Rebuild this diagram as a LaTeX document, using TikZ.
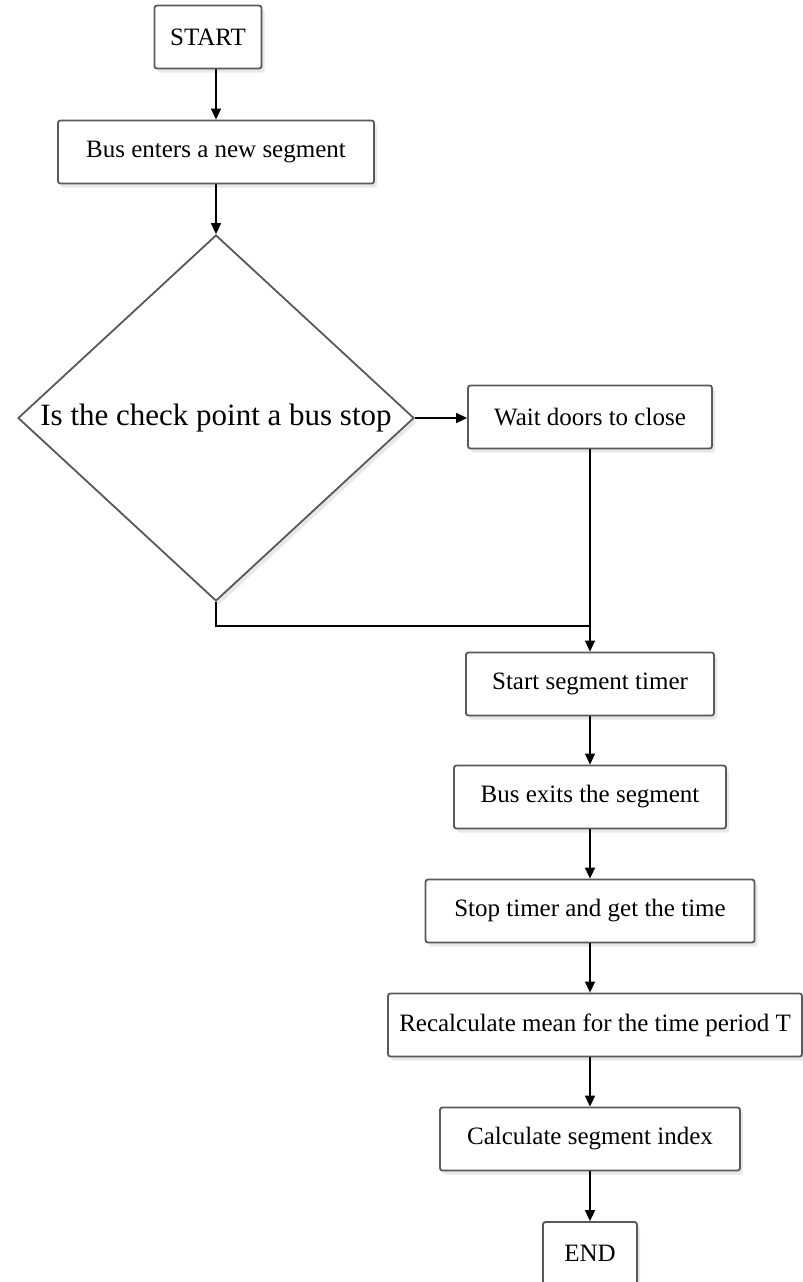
\documentclass[tikz,border=0pt]{standalone}
\usepackage{fontspec}
\setmainfont{Liberation Serif}
\usetikzlibrary{shapes.geometric,arrows.meta,shadows}

\tikzset{
  box/.style={draw=black!65, line width=0.9pt, rounded corners=1.2pt, fill=white,
    drop shadow={opacity=0.18, shadow xshift=1.5pt, shadow yshift=-2pt},
    minimum height=31.5pt, inner sep=2pt, font=\fontsize{12.5}{15}\selectfont},
  decision/.style={draw=black!65, line width=0.9pt, diamond, fill=white, inner sep=0pt,
    drop shadow={opacity=0.18, shadow xshift=1.5pt, shadow yshift=-2pt}},
  flow/.style={line width=0.8pt, -{Triangle[length=5.5pt,width=5pt]}}
}

\begin{document}
\begin{tikzpicture}[x=1pt,y=-1pt]
    \useasboundingbox (0,0) rectangle (401.5,641);

    \node (start) at (104,  18.5) [box, minimum width=53.5pt] {START};
    \node (enter) at (108,  76)   [box, minimum width=158pt]  {Bus enters a new segment};

    % decision
    \node (isstop) at (108, 209) [decision, minimum width=198pt, minimum height=183pt] {};
    \node (isstoptext) at (isstop.center) [font=\fontsize{15.5}{18}\selectfont] {Is the check point a bus stop};

    \node (wait)   at (295,   208.5) [box, minimum width=122pt]   {Wait doors to close};
    \node (timer)  at (295,   342)   [box, minimum width=124pt]   {Start segment timer};
    \node (exits)  at (295,   398.5) [box, minimum width=136pt]   {Bus exits the segment};
    \node (stop)   at (295,   455.5) [box, minimum width=164.5pt] {Stop timer and get the time};
    \node (recalc) at (297.5, 512.5) [box, minimum width=207pt]   {Recalculate mean for the time period T};
    \node (index)  at (295,   569.5) [box, minimum width=150pt]   {Calculate segment index};
    \node (end)    at (295,   626.75)[box, minimum width=47pt]    {END};

    \coordinate (join) at (295, 313);

    \draw [flow] (start.south -| enter.north) -- (enter.north);
    \draw [flow] (enter) -- (isstop.north);
    \draw [flow] (isstop.east) -- (isstop.east -| wait.west);
    \draw [flow] (wait) -- (timer);
    \draw [line width=0.8pt] (isstop.south) |- (join);
    \draw [flow] (timer) -- (exits);
    \draw [flow] (exits) -- (stop);
    \draw [flow] (stop.south) -- (stop.south |- recalc.north);
    \draw [flow] (stop.south |- recalc.south) -- (index.north);
    \draw [flow] (index) -- (end);
\end{tikzpicture}
\end{document}
